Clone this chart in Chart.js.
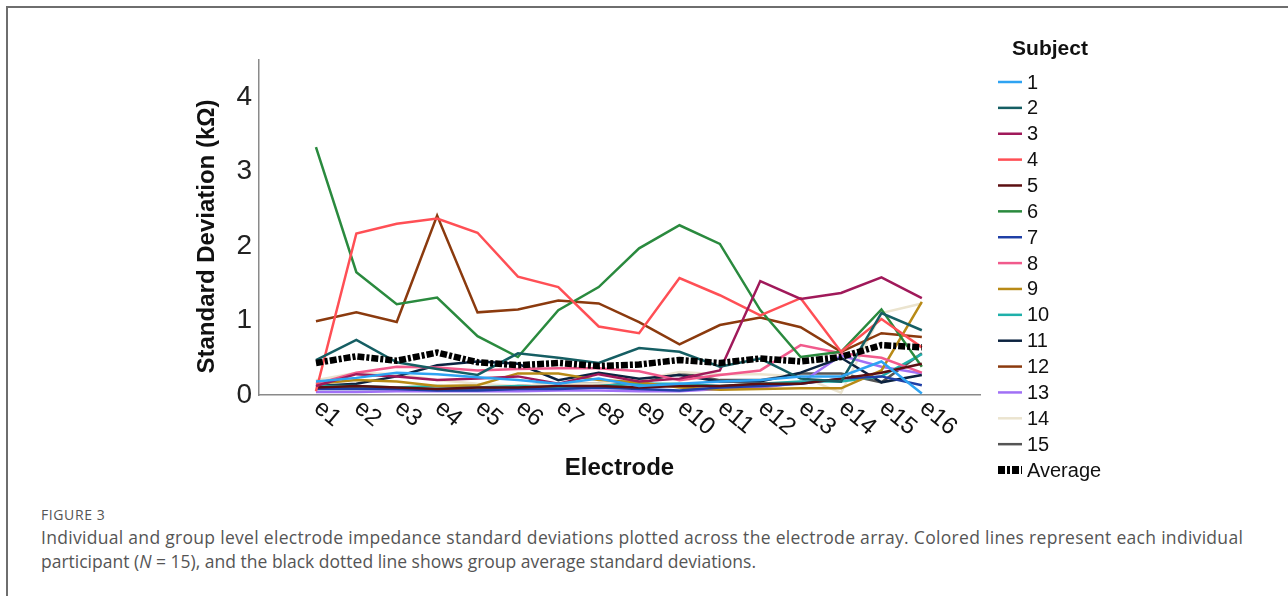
<!DOCTYPE html>
<html>
<head>
<meta charset="utf-8">
<script src="https://cdn.jsdelivr.net/npm/chart.js@4"></script>
<style>
  html, body { margin: 0; padding: 0; background: #fff; }
  body { width: 1288px; height: 596px; position: relative; overflow: hidden; }
  .frame { position: absolute; left: 6px; top: 6px; width: 1400px; height: 700px;
           border-top: 2px solid #6e6e6e; border-left: 2px solid #6e6e6e; }
  .plot { position: absolute; left: 0; top: 0; width: 1288px; height: 500px; }
  .caption { position: absolute; left: 41px; top: 505px; font-family: "Open Sans", sans-serif; color: #555; }
  .caption .fig { font-size: 14px; letter-spacing: 0.6px; line-height: 20px; }
  .caption .txt { font-size: 17.5px; line-height: 24px; white-space: nowrap; }
  .caption .l1 { letter-spacing: 0.3px; }
</style>
</head>
<body>
<div class="frame"></div>
<div class="plot"><canvas id="sdChart"></canvas></div>
<div class="caption">
  <div class="fig">FIGURE 3</div>
  <div class="txt l1">Individual and group level electrode impedance standard deviations plotted across the electrode array. Colored lines represent each individual</div>
  <div class="txt">participant (<i>N</i> = 15), and the black dotted line shows group average standard deviations.</div>
</div>
<script>
const electrodes = ['e1','e2','e3','e4','e5','e6','e7','e8','e9','e10','e11','e12','e13','e14','e15','e16'];
const yTicks = [0, 1, 2, 3, 4];

// standard deviation (kOhm) per electrode, one array per subject
const s1  = [0.18, 0.23, 0.30, 0.28, 0.24, 0.20, 0.15, 0.22, 0.12, 0.15, 0.18, 0.20, 0.25, 0.25, 0.45, 0.02];
const s2  = [0.47, 0.74, 0.44, 0.35, 0.27, 0.56, 0.50, 0.43, 0.63, 0.58, 0.38, 0.49, 0.22, 0.18, 1.10, 0.87];
const s3  = [0.12, 0.28, 0.25, 0.20, 0.22, 0.25, 0.15, 0.28, 0.18, 0.22, 0.33, 1.53, 1.29, 1.37, 1.58, 1.30];
const s4  = [0.05, 2.17, 2.30, 2.37, 2.18, 1.59, 1.45, 0.92, 0.83, 1.57, 1.34, 1.07, 1.30, 0.58, 1.02, 0.64];
const s5  = [0.10, 0.12, 0.10, 0.08, 0.10, 0.10, 0.12, 0.12, 0.10, 0.12, 0.12, 0.15, 0.15, 0.22, 0.30, 0.42];
const s6  = [3.33, 1.65, 1.22, 1.31, 0.79, 0.51, 1.14, 1.45, 1.97, 2.28, 2.03, 1.14, 0.51, 0.58, 1.15, 0.38];
const s7  = [0.08, 0.08, 0.08, 0.06, 0.06, 0.08, 0.08, 0.10, 0.08, 0.06, 0.10, 0.12, 0.15, 0.22, 0.25, 0.13];
const s8  = [0.15, 0.30, 0.38, 0.37, 0.33, 0.35, 0.36, 0.36, 0.32, 0.20, 0.27, 0.33, 0.67, 0.56, 0.50, 0.30];
const s9  = [0.15, 0.20, 0.18, 0.12, 0.13, 0.29, 0.29, 0.20, 0.17, 0.10, 0.07, 0.08, 0.09, 0.09, 0.33, 1.25];
const s10 = [0.12, 0.12, 0.10, 0.12, 0.10, 0.12, 0.10, 0.12, 0.15, 0.15, 0.12, 0.15, 0.18, 0.18, 0.25, 0.55];
const s11 = [0.12, 0.15, 0.25, 0.40, 0.45, 0.42, 0.20, 0.30, 0.22, 0.27, 0.18, 0.18, 0.30, 0.50, 0.17, 0.27];
const s12 = [0.99, 1.11, 0.98, 2.41, 1.11, 1.15, 1.27, 1.23, 0.98, 0.68, 0.94, 1.04, 0.91, 0.58, 0.83, 0.78];
const s13 = [0.04, 0.04, 0.05, 0.05, 0.05, 0.05, 0.06, 0.06, 0.05, 0.05, 0.08, 0.10, 0.16, 0.53, 0.38, 0.29];
const s14 = [0.20, 0.30, 0.28, 0.20, 0.15, 0.12, 0.15, 0.15, 0.20, 0.31, 0.28, 0.28, 0.25, 0.03, 1.10, 1.23];
const s15 = [0.10, 0.10, 0.08, 0.08, 0.08, 0.12, 0.15, 0.15, 0.15, 0.30, 0.20, 0.20, 0.29, 0.29, 0.17, 0.56];
const average = [0.43, 0.52, 0.46, 0.57, 0.44, 0.40, 0.43, 0.39, 0.41, 0.47, 0.43, 0.49, 0.45, 0.51, 0.67, 0.64];

const subjects = [s1, s2, s3, s4, s5, s6, s7, s8, s9, s10, s11, s12, s13, s14, s15];
const colors = ['#2ea3f2', '#155e63', '#a0195a', '#ff4f55', '#5c0f12', '#2a8a3e', '#1f3fa6', '#f15a8c',
                '#b88a16', '#1fb0aa', '#0c2340', '#8b3a0e', '#a070f5', '#ebe4cf', '#555555'];

const FONT = '"Liberation Sans", Arial, sans-serif';
const toPoints = arr => arr.map((v, i) => ({ x: i, y: v }));

const datasets = subjects.map((s, i) => ({
    label: String(i + 1),
    data: toPoints(s),
    borderColor: colors[i],
    borderWidth: 2.5,
    pointRadius: 0,
    order: 1
}));
datasets.push({
    label: 'Average',
    data: toPoints(average),
    borderColor: '#000',
    borderWidth: 6.5,
    borderDash: [7, 2, 3, 2],
    pointRadius: 0,
    order: 0
});

// electrode names slanted downward to the right, plus the y title
const axisText = {
    id: 'axisText',
    afterDraw(chart) {
        const xs = chart.scales.x, ys = chart.scales.y, ctx = chart.ctx;
        ctx.save();
        ctx.font = '24px ' + FONT;
        ctx.fillStyle = '#111';
        ctx.textAlign = 'left';
        ctx.textBaseline = 'middle';
        electrodes.forEach((lab, i) => {
            ctx.save();
            ctx.translate(xs.getPixelForValue(i) + 1, xs.top + 10);
            ctx.rotate(40 * Math.PI / 180);
            ctx.fillText(lab, 0, 0);
            ctx.restore();
        });
        ctx.font = 'bold 24px ' + FONT;
        ctx.textAlign = 'center';
        ctx.translate(207, (ys.top + ys.bottom) / 2 + 9);
        ctx.rotate(-Math.PI / 2);
        ctx.fillText('Standard Deviation (kΩ)', 0, 0);
        ctx.restore();
    }
};

const subjectLegend = {
    id: 'subjectLegend',
    afterDraw(chart) {
        const ctx = chart.ctx;
        const x0 = chart.chartArea.right + 18;
        ctx.save();
        ctx.fillStyle = '#111';
        ctx.textBaseline = 'middle';
        ctx.font = 'bold 21px ' + FONT;
        ctx.textAlign = 'center';
        ctx.fillText('Subject', x0 + 52, 49);
        ctx.font = '20px ' + FONT;
        ctx.textAlign = 'left';
        chart.data.datasets.forEach((d, i) => {
            const y = 82 + i * 25.87;
            ctx.beginPath();
            ctx.strokeStyle = d.borderColor;
            ctx.lineWidth = d.borderDash ? 8 : 2.5;
            ctx.setLineDash(d.borderDash || []);
            ctx.moveTo(x0, y);
            ctx.lineTo(x0 + 24, y);
            ctx.stroke();
            ctx.setLineDash([]);
            ctx.fillText(d.label, x0 + 29, y + 1);
        });
        ctx.restore();
    }
};

new Chart(document.getElementById('sdChart'), {
    type: 'line',
    data: { datasets },
    plugins: [axisText, subjectLegend],
    options: {
        responsive: true,
        maintainAspectRatio: false,
        animation: false,
        layout: { padding: { top: 60, right: 308, left: 0, bottom: 0 } },
        plugins: { legend: { display: false }, tooltip: { enabled: false } },
        elements: { line: { tension: 0 } },
        scales: {
            x: {
                type: 'linear',
                min: -1.41,
                max: 16.44,
                grid: { display: false, drawTicks: false },
                border: { display: true, color: '#8a8a8a', width: 1.5 },
                ticks: { display: false },
                afterBuildTicks: s => { s.ticks = electrodes.map((_, i) => ({ value: i })); },
                afterFit: s => { s.height = 105; },
                title: {
                    display: true, text: 'Electrode', color: '#111',
                    font: { family: FONT, size: 24, weight: 'bold' },
                    padding: { top: 0, bottom: 17 }
                }
            },
            y: {
                min: 0,
                max: 4.5,
                grid: { display: false, drawTicks: false },
                border: { display: true, color: '#8a8a8a', width: 1.5 },
                afterBuildTicks: s => { s.ticks = yTicks.map(v => ({ value: v })); },
                afterFit: s => { s.width = 259; },
                ticks: { color: '#222', padding: 7, font: { family: FONT, size: 28 } }
            }
        }
    }
});
</script>
</body>
</html>
